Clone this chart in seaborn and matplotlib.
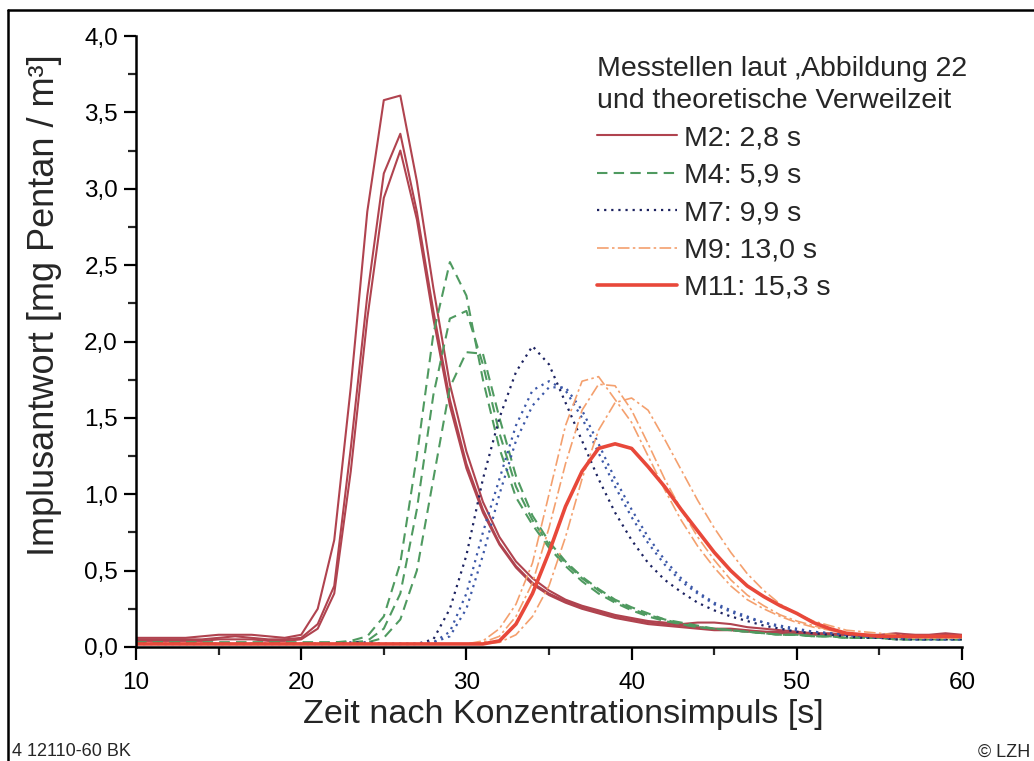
import matplotlib
matplotlib.use("Agg")
import matplotlib.pyplot as plt
import seaborn as sns
from matplotlib.ticker import MultipleLocator, FuncFormatter
from matplotlib.lines import Line2D

# time axis [s]
t = list(range(10, 61))

# M2 (three runs)
m2_a = [0.06, 0.06, 0.06, 0.06, 0.07, 0.08, 0.08, 0.08, 0.07, 0.06,
        0.08, 0.25, 0.70, 1.70, 2.85, 3.58, 3.61, 3.05, 2.35, 1.72,
        1.28, 0.95, 0.72, 0.56, 0.45, 0.37, 0.31, 0.27, 0.24, 0.21,
        0.19, 0.17, 0.16, 0.15, 0.16, 0.16, 0.15, 0.13, 0.12, 0.11,
        0.10, 0.09, 0.09, 0.08, 0.08, 0.08, 0.09, 0.08, 0.08, 0.09, 0.08]
m2_b = [0.05, 0.05, 0.05, 0.05, 0.05, 0.06, 0.07, 0.06, 0.05, 0.05,
        0.06, 0.15, 0.40, 1.30, 2.30, 3.10, 3.36, 2.85, 2.20, 1.62,
        1.20, 0.90, 0.68, 0.53, 0.42, 0.35, 0.30, 0.26, 0.23, 0.20,
        0.18, 0.16, 0.15, 0.14, 0.13, 0.12, 0.12, 0.11, 0.10, 0.10,
        0.09, 0.09, 0.08, 0.08, 0.08, 0.07, 0.08, 0.08, 0.07, 0.08, 0.07]
m2_c = [0.04, 0.04, 0.04, 0.04, 0.04, 0.05, 0.05, 0.05, 0.04, 0.04,
        0.05, 0.12, 0.35, 1.15, 2.15, 2.94, 3.25, 2.80, 2.15, 1.58,
        1.17, 0.88, 0.67, 0.52, 0.41, 0.34, 0.29, 0.25, 0.22, 0.19,
        0.17, 0.15, 0.14, 0.13, 0.12, 0.11, 0.11, 0.10, 0.10, 0.09,
        0.09, 0.08, 0.08, 0.08, 0.07, 0.07, 0.07, 0.07, 0.07, 0.07, 0.07]

# M4
m4_a = [0.03, 0.03, 0.03, 0.03, 0.03, 0.03, 0.03, 0.03, 0.03, 0.03,
        0.03, 0.03, 0.03, 0.04, 0.07, 0.20, 0.55, 1.25, 2.05, 2.52,
        2.30, 1.75, 1.30, 0.98, 0.80, 0.65, 0.53, 0.43, 0.35, 0.29,
        0.24, 0.20, 0.17, 0.15, 0.13, 0.12, 0.11, 0.10, 0.09, 0.08,
        0.08, 0.07, 0.07, 0.06, 0.06, 0.06, 0.05, 0.05, 0.05, 0.05, 0.05]
m4_b = [0.02, 0.02, 0.02, 0.02, 0.02, 0.02, 0.02, 0.02, 0.02, 0.02,
        0.02, 0.02, 0.03, 0.03, 0.04, 0.12, 0.35, 0.90, 1.65, 2.15,
        2.20, 1.85, 1.40, 1.05, 0.83, 0.67, 0.55, 0.45, 0.37, 0.30,
        0.25, 0.21, 0.18, 0.15, 0.13, 0.12, 0.11, 0.10, 0.09, 0.08,
        0.08, 0.07, 0.07, 0.06, 0.06, 0.06, 0.05, 0.05, 0.05, 0.05, 0.05]
m4_c = [0.03, 0.03, 0.03, 0.03, 0.03, 0.03, 0.03, 0.03, 0.03, 0.03,
        0.03, 0.03, 0.03, 0.03, 0.03, 0.06, 0.18, 0.50, 1.10, 1.70,
        1.93, 1.92, 1.50, 1.12, 0.86, 0.69, 0.56, 0.46, 0.38, 0.31,
        0.26, 0.22, 0.18, 0.16, 0.14, 0.12, 0.11, 0.10, 0.09, 0.08,
        0.08, 0.07, 0.07, 0.06, 0.06, 0.06, 0.05, 0.05, 0.05, 0.05, 0.05]

# M7
m7_a = [0.02, 0.02, 0.02, 0.02, 0.02, 0.02, 0.02, 0.02, 0.02, 0.02,
        0.02, 0.02, 0.02, 0.03, 0.03, 0.02, 0.02, 0.02, 0.05, 0.25,
        0.60, 1.10, 1.50, 1.80, 1.97, 1.85, 1.60, 1.35, 1.10, 0.88,
        0.70, 0.55, 0.44, 0.36, 0.29, 0.24, 0.20, 0.17, 0.14, 0.12,
        0.10, 0.09, 0.08, 0.07, 0.06, 0.06, 0.05, 0.05, 0.05, 0.05, 0.05]
m7_b = [0.02, 0.02, 0.02, 0.02, 0.02, 0.02, 0.02, 0.02, 0.02, 0.02,
        0.02, 0.02, 0.02, 0.02, 0.02, 0.02, 0.02, 0.02, 0.03, 0.10,
        0.35, 0.75, 1.10, 1.45, 1.68, 1.74, 1.68, 1.50, 1.27, 1.05,
        0.85, 0.68, 0.54, 0.43, 0.35, 0.28, 0.23, 0.19, 0.16, 0.13,
        0.11, 0.10, 0.09, 0.08, 0.07, 0.06, 0.06, 0.05, 0.05, 0.05, 0.05]
m7_c = [0.02, 0.02, 0.02, 0.02, 0.02, 0.02, 0.02, 0.02, 0.02, 0.02,
        0.02, 0.02, 0.02, 0.02, 0.02, 0.02, 0.02, 0.02, 0.03, 0.07,
        0.25, 0.60, 1.00, 1.35, 1.58, 1.70, 1.70, 1.55, 1.33, 1.10,
        0.90, 0.72, 0.57, 0.45, 0.36, 0.29, 0.24, 0.20, 0.16, 0.14,
        0.12, 0.10, 0.09, 0.08, 0.07, 0.06, 0.06, 0.05, 0.05, 0.05, 0.05]

# M9
m9_a = [0.02, 0.02, 0.02, 0.02, 0.02, 0.02, 0.02, 0.02, 0.02, 0.02,
        0.02, 0.02, 0.02, 0.02, 0.02, 0.02, 0.02, 0.02, 0.02, 0.02,
        0.02, 0.04, 0.12, 0.28, 0.55, 1.00, 1.45, 1.74, 1.77, 1.62,
        1.47, 1.25, 1.03, 0.83, 0.66, 0.52, 0.40, 0.31, 0.25, 0.20,
        0.16, 0.13, 0.11, 0.09, 0.08, 0.07, 0.07, 0.06, 0.06, 0.06, 0.06]
m9_b = [0.02, 0.02, 0.02, 0.02, 0.02, 0.02, 0.02, 0.02, 0.02, 0.02,
        0.02, 0.02, 0.02, 0.02, 0.02, 0.02, 0.02, 0.02, 0.02, 0.02,
        0.02, 0.03, 0.07, 0.20, 0.42, 0.78, 1.20, 1.55, 1.72, 1.71,
        1.55, 1.33, 1.10, 0.90, 0.72, 0.57, 0.44, 0.34, 0.27, 0.21,
        0.17, 0.14, 0.11, 0.09, 0.08, 0.07, 0.07, 0.06, 0.06, 0.06, 0.06]
m9_c = [0.02, 0.02, 0.02, 0.02, 0.02, 0.02, 0.02, 0.02, 0.02, 0.02,
        0.02, 0.02, 0.02, 0.02, 0.02, 0.02, 0.02, 0.02, 0.02, 0.02,
        0.02, 0.02, 0.03, 0.08, 0.20, 0.40, 0.72, 1.10, 1.42, 1.60,
        1.63, 1.55, 1.36, 1.16, 0.96, 0.78, 0.62, 0.48, 0.37, 0.28,
        0.22, 0.17, 0.14, 0.11, 0.10, 0.09, 0.08, 0.07, 0.07, 0.06, 0.06]

# M11
m11 = [0.02, 0.02, 0.02, 0.02, 0.02, 0.02, 0.02, 0.02, 0.02, 0.02,
       0.02, 0.02, 0.02, 0.02, 0.02, 0.02, 0.02, 0.02, 0.02, 0.02,
       0.02, 0.02, 0.04, 0.15, 0.35, 0.62, 0.92, 1.15, 1.30, 1.33,
       1.30, 1.18, 1.05, 0.90, 0.76, 0.62, 0.50, 0.40, 0.33, 0.27,
       0.22, 0.16, 0.12, 0.09, 0.08, 0.07, 0.07, 0.07, 0.07, 0.07, 0.07]

labels = ["M2: 2,8 s", "M4: 5,9 s", "M7: 9,9 s", "M9: 13,0 s", "M11: 15,3 s"]

sns.set_style("ticks")
plt.rcParams['font.family'] = ['Liberation Sans', 'DejaVu Sans']

fig = plt.figure(figsize=(10.34, 7.61), dpi=100)
ax = fig.add_axes([136 / 1034, 1 - 647 / 761, 826 / 1034, 611 / 761])

# (series, colour, dashes, linewidth)
groups = [
    ([m2_a, m2_b, m2_c], ["#b0434f", "#b0434f", "#b0434f"], (None, None), 1.5),
    ([m4_a, m4_b, m4_c], ["#4f9a60", "#4f9a60", "#4f9a60"], (5, 3), 1.5),
    ([m7_a, m7_b, m7_c], ["#1c2260", "#3c58a8", "#3c58a8"], (1, 2.2), 1.6),
    ([m9_a, m9_b, m9_c], ["#f4a06e", "#f4a06e", "#f4a06e"], (7, 2, 1.5, 2), 1.2),
    ([m11], ["#e8483a"], (None, None), 2.6),
]

handles = []
for series, colors, dash, lw in groups:
    for vals, c in zip(series, colors):
        sns.lineplot(x=t, y=vals, ax=ax, color=c, linewidth=lw)
        line = ax.lines[-1]
        if dash[0] is not None:
            line.set_dashes(dash)
    h = Line2D([], [], color=colors[0], linewidth=lw)
    if dash[0] is not None:
        h.set_dashes(dash)
    handles.append(h)

ax.set_xlim(10, 60)
ax.set_ylim(0, 4.0)
ax.xaxis.set_major_locator(MultipleLocator(10))
ax.xaxis.set_minor_locator(MultipleLocator(5))
ax.yaxis.set_major_locator(MultipleLocator(0.5))
ax.yaxis.set_minor_locator(MultipleLocator(0.25))
ax.yaxis.set_major_formatter(FuncFormatter(lambda v, p: f"{v:.1f}".replace(".", ",")))
ax.tick_params(which="major", length=9, width=1.6, labelsize=17.5, direction="out", colors="black")
ax.tick_params(which="minor", length=6, width=1.6, direction="out")
ax.tick_params(axis="x", pad=9)
ax.tick_params(axis="y", pad=4)
for s in ["left", "bottom"]:
    ax.spines[s].set_linewidth(1.8)
    ax.spines[s].set_color("black")
sns.despine(ax=ax)

ax.set_xlabel("Zeit nach Konzentrationsimpuls [s]", fontsize=24.5)
ax.set_ylabel("Implusantwort [mg Pentan / m³]", fontsize=26)
ax.xaxis.set_label_coords((563 - 136) / 826, (647 - 715) / 611)
ax.yaxis.set_label_coords((45 - 136) / 826, (647 - 305) / 611)
ax.xaxis.label.set_va("center")
ax.yaxis.label.set_va("center")

leg = ax.legend(handles, labels,
                title="Messtellen laut \u201aAbbildung 22\nund theoretische Verweilzeit",
                loc="upper left", bbox_to_anchor=((597 - 136) / 826, (647 - 56) / 611),
                frameon=False, alignment="left", fontsize=20.5, title_fontsize=20.5,
                handlelength=2.8, handletextpad=0.25, labelspacing=0.4,
                borderpad=0, borderaxespad=0)
leg.get_title().set_linespacing(1.3)

# page frame and annotations
fig.add_artist(Line2D([8 / 1034, 1], [1 - 10 / 761, 1 - 10 / 761], color="black", lw=1.8))
fig.add_artist(Line2D([8 / 1034, 8 / 1034], [0, 1 - 10 / 761], color="black", lw=1.8))
fig.text(12 / 1034, 1 - 752 / 761, "4 12110-60 BK", fontsize=13, va="center", ha="left")
fig.text(1030 / 1034, 1 - 752 / 761, "© LZH", fontsize=13, va="center", ha="right")

fig.savefig("out.png", dpi=100)
